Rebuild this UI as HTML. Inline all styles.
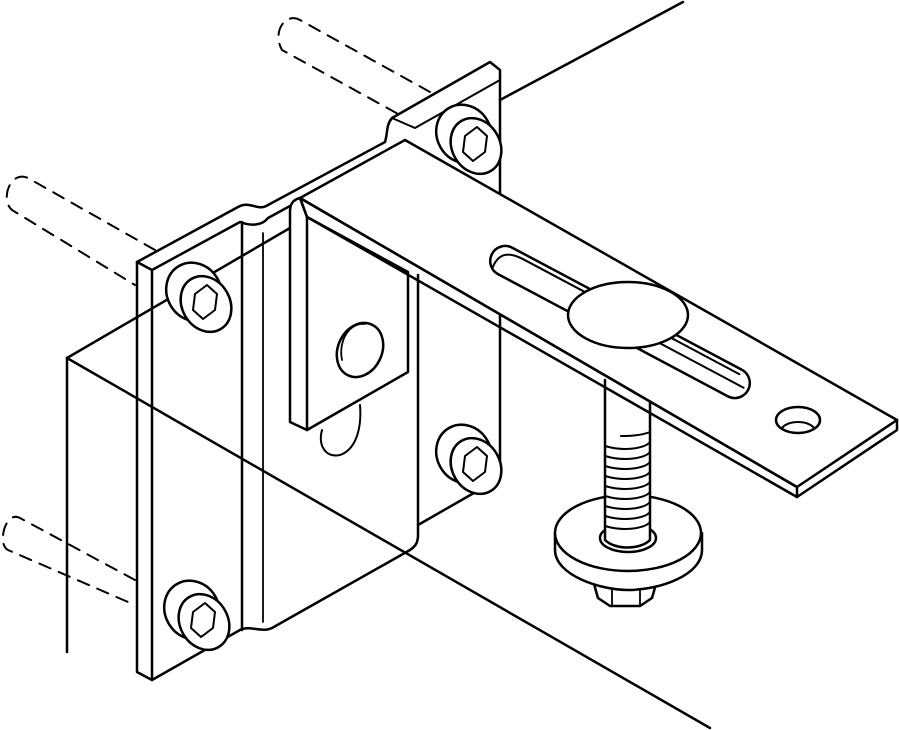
<!DOCTYPE html>
<html><head><meta charset="utf-8"><style>html,body{margin:0;padding:0;background:#fff}svg{display:block}</style></head>
<body>
<svg width="899" height="730" viewBox="0 0 899 730" xmlns="http://www.w3.org/2000/svg">
<defs>
<g id="screw">
  <ellipse cx="-8" cy="-8" rx="27" ry="30" transform="rotate(-30 -8 -8)" fill="#fff" stroke="#000" stroke-width="2.5"/>
  <ellipse cx="4" cy="4" rx="24" ry="29" transform="rotate(-30 4 4)" fill="#fff" stroke="#000" stroke-width="2.5"/>
  <polygon points="-6,-6 6,-15 16,-6 14,10 2,19 -8,10" transform="translate(-1,0)" fill="none" stroke="#000" stroke-width="2"/>
</g>
</defs>
<g fill="none" stroke="#000" stroke-width="2.5" stroke-linejoin="round" stroke-linecap="round">
<g stroke-width="2" stroke-dasharray="12,9">
  <path d="M430,92 L300,20 C285,12 272,32 282,50 L400,115"/>
  <path d="M155,250 L28,178 C10,170 0,200 12,210 L135,285"/>
  <path d="M135,580 L20,518 C5,510 -3,545 8,550 L135,605"/>
</g>
<line x1="683" y1="2" x2="500" y2="100"/>
<line x1="67" y1="358" x2="67" y2="652"/>
<path d="M137,262 L137,672 L152,680 L240,630 C250,625 262,633 272,628 L410,550 C416,546 418,542 418,535 L418,275" fill="#fff"/>
<path d="M137,262 L238,207 C250,200 258,212 268,205 L385,142 C388,132 386,125 392,118 L490,62 L500,70 L500,478 L418,525"/>
<path d="M137,262 L152,270 L240,222 C250,226 262,226 268,218 L290,206"/>
<line x1="152" y1="270" x2="152" y2="680"/>
<line x1="242" y1="222" x2="242" y2="630"/>
<line x1="263" y1="233" x2="263" y2="622" stroke-width="1.8"/>
<path d="M392,118 L415,128 L500,80" stroke-width="2"/>
<line x1="67" y1="358" x2="290" y2="228"/>
<line x1="67" y1="358" x2="710" y2="728"/>
<use href="#screw" x="202" y="300"/>
<use href="#screw" x="200" y="618"/>
<use href="#screw" x="472" y="142"/>
<use href="#screw" x="472" y="462"/>
<path d="M300,198 C292,200 290,205 290,212 L290,422 L307,430 L408,372 L408,272 L307,217 Z" fill="#fff"/>
<line x1="307" y1="217" x2="307" y2="430"/>
<path d="M322,430 C318,445 325,458 340,455 C355,450 362,430 360,405" stroke-width="2"/>
<ellipse cx="360" cy="350" rx="22" ry="28" transform="rotate(25 360 350)" fill="#fff"/>
<path d="M342,360 C338,340 350,322 365,324" stroke-width="1.8"/>
<!-- nut and washer -->
<path d="M590,570 L598,598 L610,606 L640,606 L652,598 L660,570" fill="#fff"/>
<line x1="612" y1="590" x2="612" y2="606" stroke-width="1.8"/>
<line x1="640" y1="590" x2="640" y2="606" stroke-width="1.8"/>
<path d="M555,533 L555,550 C555,575 600,590 628,590 C660,590 702,575 702,550 L702,533" fill="#fff"/>
<ellipse cx="628" cy="533" rx="73" ry="38" fill="#fff"/>
<ellipse cx="628" cy="538" rx="28" ry="14"/>
<!-- bolt shaft -->
<path d="M605,380 L605,540 C615,550 640,550 650,540 L650,350" fill="#fff"/>
<g stroke-width="2">
  <path d="M621,436 C635,436 645,434 650,432"/>
  <path d="M605,446 C625,452 645,448 650,442"/>
  <path d="M605,456 C625,462 645,458 650,452"/>
  <path d="M605,466 C625,472 645,468 650,462"/>
  <path d="M605,476 C625,482 645,478 650,472"/>
  <path d="M605,486 C625,492 645,488 650,482"/>
  <path d="M605,496 C625,502 645,498 650,492"/>
  <path d="M605,506 C625,512 645,508 650,502"/>
  <path d="M605,516 C625,522 645,518 650,512"/>
  <path d="M605,526 C625,532 645,528 650,522"/>
</g>
<!-- arm -->
<path d="M300,198 L405,140 L897,420 L897,430 L797,497 L797,487 Z" fill="#fff"/>
<path d="M300,198 L797,487 M307,217 L797,497 M300,198 L307,217 M797,487 L897,420"/>
<g transform="translate(620,322) rotate(28)">
  <rect x="-145" y="-15" width="290" height="30" rx="15" fill="#fff"/>
  <path d="M-138,12 C-140,-5 -130,-10 -115,-10 L130,-10" stroke-width="2"/>
  <line x1="-20" y1="0" x2="140" y2="0" stroke-width="2"/>
</g>
<ellipse cx="628" cy="315" rx="60" ry="33" fill="#fff"/>
<ellipse cx="798" cy="420" rx="22" ry="13" fill="#fff"/>
<path d="M782,428 C788,420 808,420 814,428" stroke-width="2"/>
</g>
</svg>
</body></html>
